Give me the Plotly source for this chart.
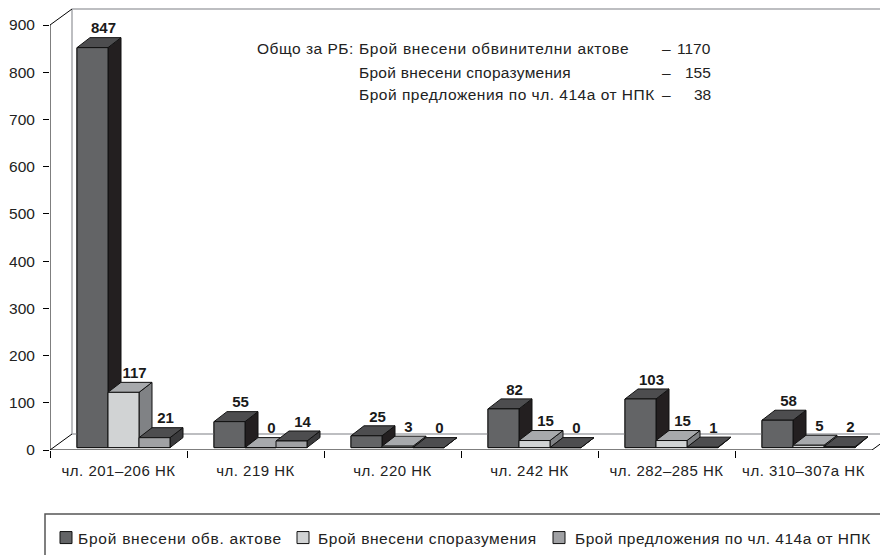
import plotly.graph_objects as go

categories = ["чл. 201–206 НК", "чл. 219 НК", "чл. 220 НК", "чл. 242 НК", "чл. 282–285 НК", "чл. 310–307а НК"]
indictments = [847, 55, 25, 82, 103, 58]
agreements = [117, 0, 3, 15, 15, 5]
proposals = [21, 14, 0, 0, 1, 2]
series_names = ["Брой внесени обв. актове", "Брой внесени споразумения", "Брой предложения по чл. 414а от НПК"]
y_ticks = [0, 100, 200, 300, 400, 500, 600, 700, 800, 900]
total_labels = ["Брой внесени обвинителни актове", "Брой внесени споразумения", "Брой предложения по чл. 414а от НПК"]
total_values = [1170, 155, 38]

FONT = "Liberation Sans"
W, H = 880, 555
L, B = 50, 450
SX = 137.0           # px per category
SY = 425 / 900.0     # px per value unit
R = L + 830

series = [indictments, agreements, proposals]
front = ["#636466", "#d1d3d4", "#a0a1a4"]
top = ["#4d4d4f", "#a7a9ac", "#4d4d4f"]
side = ["#231f20", "#808285", "#3a3a3c"]

dxw, dyw = 22 / SX, 16 / SY      # wall depth
dx, dy = 13 / SX, 10 / SY        # bar depth
bw = 31 / SX
base = 2.4 / SY
x_max = (R - L) / SX
y_max = B / SY
wall_top = 900 + dyw
n = len(categories)

fig = go.Figure()


def line(xs, ys, color="#000000", width=1):
    fig.add_trace(go.Scatter(x=xs, y=ys, mode="lines", line=dict(color=color, width=width),
                             showlegend=False, hoverinfo="skip", cliponaxis=False))


def poly(xs, ys, color):
    fig.add_trace(go.Scatter(x=xs + xs[:1], y=ys + ys[:1], mode="lines", fill="toself", fillcolor=color,
                             line=dict(color="#111111", width=1), showlegend=False, hoverinfo="skip"))


# real bars (front faces; these also carry the legends)
legend_ids = ["legend", "legend2", "legend3"]
for s, vals in enumerate(series):
    fig.add_trace(go.Bar(x=[i + (27 + 31 * s) / SX + bw / 2 for i in range(n)], y=vals, base=base, width=bw,
                         marker=dict(color=front[s], line=dict(color="#111111", width=1)),
                         name=series_names[s], legend=legend_ids[s], hoverinfo="skip"))

# walls and floor
line([dxw, dxw], [dyw, wall_top], "#a7a9ac", 1.5)
line([dxw, x_max], [wall_top, wall_top], "#a7a9ac", 1.5)
line([dxw, x_max], [dyw, dyw], "#a7a9ac", 1.5)
line([0, dxw], [900, wall_top])
line([0, dxw], [0, dyw])
line([6, 6 + dxw], [0, dyw])

# 3-D faces, painted left to right
for i in range(n):
    for s, vals in enumerate(series):
        v = vals[i]
        x0 = i + (27 + 31 * s) / SX
        x1 = x0 + bw
        y0, y1 = base, base + v
        poly([x1, x1 + dx, x1 + dx, x1], [y0, y0 + dy, y1 + dy, y1], side[s])
        poly([x0, x1, x1 + dx, x0 + dx], [y1, y1, y1 + dy, y1 + dy], top[s])
        poly([x0, x1, x1, x0], [y0, y0, y1, y1], front[s])

# axis lines
line([0, 0], [0, 900])
line([0, 6], [0, 0], "#000000", 1.2)

# value labels
for s, vals in enumerate(series):
    fig.add_trace(go.Scatter(
        x=[i + (27 + 31 * s) / SX + bw / 2 + 11 / SX for i in range(n)],
        y=[base + v + dy + 8 / SY for v in vals],
        text=[str(v) for v in vals], mode="text", textposition="middle center",
        textfont=dict(family=FONT, size=15, color="#1a1a1a", weight="bold"),
        showlegend=False, hoverinfo="skip", cliponaxis=False))


def px(x):
    return (x - L) / (R - L)


def py(y):
    return (B - y) / B


ys_text = [48, 72, 94]
ann = [dict(x=px(255), y=py(ys_text[0]), text="Общо за РБ:", xanchor="left")]
for k in range(3):
    ann.append(dict(x=px(357), y=py(ys_text[k]), text=total_labels[k], xanchor="left"))
    ann.append(dict(x=px(713), y=py(ys_text[k]), text=str(total_values[k]), xanchor="right"))
    ann.append(dict(x=px(666), y=py(ys_text[k]), text="–", xanchor="center"))
for a in ann:
    a.update(xref="paper", yref="paper", yanchor="middle", showarrow=False,
             font=dict(family=FONT, size=15.5, color="#222222"))

leg_common = dict(orientation="h", xref="paper", yref="paper", xanchor="left", yanchor="middle",
                  y=py(538), bgcolor="rgba(0,0,0,0)", font=dict(family=FONT, size=15.5, color="#222222"),
                  itemwidth=30, borderwidth=0)

fig.update_layout(
    width=W, height=H, autosize=False,
    margin=dict(l=L, r=0, t=0, b=H - B, pad=0, autoexpand=False),
    paper_bgcolor="#ffffff", plot_bgcolor="#ffffff",
    barmode="overlay", showlegend=True,
    font=dict(family=FONT, size=15, color="#222222"),
    xaxis=dict(range=[0, x_max], tickmode="array", tickvals=[i + 0.5 for i in range(n)], ticktext=categories,
               ticks="", showgrid=False, zeroline=False, showline=False, ticklabelstandoff=10,
               tickfont=dict(family=FONT, size=15, color="#222222"),
               minor=dict(tickmode="array", tickvals=list(range(n)), ticks="outside", ticklen=7,
                          tickcolor="#000000", tickwidth=1, showgrid=False)),
    yaxis=dict(range=[0, y_max], tickmode="array", tickvals=y_ticks, ticks="outside", ticklen=6,
               tickcolor="#000000", showgrid=False, zeroline=False, showline=False, ticklabelstandoff=5,
               tickfont=dict(family=FONT, size=15.5, color="#222222")),
    annotations=ann,
    shapes=[dict(type="rect", xref="paper", yref="paper", x0=px(45), x1=px(900), y0=py(514), y1=py(570),
                 line=dict(color="#555555", width=1.5), fillcolor="rgba(0,0,0,0)")],
    legend=dict(x=px(46), **leg_common),
    legend2=dict(x=px(283), **leg_common),
    legend3=dict(x=px(539), **leg_common),
)

# The reference is set with wide tracking and a tight key-to-text gap, which Plotly has no attribute for.
post = """
document.body.style.margin = '0';
function tweak() {
  [['.legendtext', 8, '0.75px'], ['.legend2text', 5, '0.55px'], ['.legend3text', 4, '0.5px']].forEach(function (c) {
    document.querySelectorAll(c[0]).forEach(function (t) {
      if (t.dataset.done) return;
      t.dataset.done = '1';
      t.style.letterSpacing = c[2];
      t.setAttribute('x', parseFloat(t.getAttribute('x')) - c[1]);
    });
  });
  document.querySelectorAll('.scrollbox').forEach(function (g) { g.removeAttribute('clip-path'); });
  document.querySelectorAll('.xtick text').forEach(function (t) { t.style.letterSpacing = '0.5px'; });
  document.querySelectorAll('.annotation-text').forEach(function (t) {
    if (t.textContent.length > 5 && !t.dataset.done) {
      t.dataset.done = '1';
      var left = t.getBBox().x;
      t.style.textAnchor = 'start';
      t.setAttribute('x', left);
      var s = t.textContent;
      t.style.letterSpacing = s.indexOf('обвин') >= 0 ? '0.7px' : s.indexOf('споразум') >= 0 ? '0.28px' : '0.5px';
    }
  });
}
tweak();
var gd = document.getElementById('{plot_id}');
gd.on('plotly_afterplot', tweak);
setTimeout(tweak, 0);
setTimeout(tweak, 100);
"""

fig.write_html("out.html", post_script=post, config=dict(displayModeBar=False))
